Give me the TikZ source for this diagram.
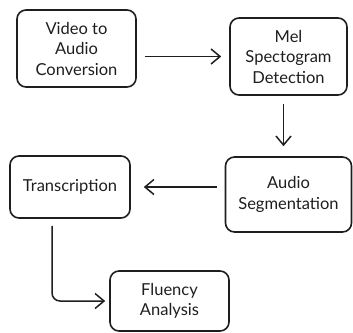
\documentclass[tikz,border=0pt]{standalone}
\usepackage{fontspec}
\setmainfont{Lato}
\usetikzlibrary{arrows.meta}
\definecolor{ink}{HTML}{1E1E1E}
\tikzset{
  box/.style={draw=ink, line width=1.6pt, rounded corners=9pt, align=center,
    text=ink, font=\fontsize{16.5}{20.5}\selectfont, inner sep=0pt},
  arr/.style={draw=ink, line width=1.5pt, -{Straight Barb[length=9pt,width=15pt,line width=1.5pt]}}
}
\begin{document}
\begin{tikzpicture}[x=1pt,y=-1pt]
\useasboundingbox (0,0) rectangle (353,332);
\node[box, minimum width=119pt, minimum height=77pt] (b1) at (76.5,48.5) {Video to\\Audio\\Conversion};
\node[box, minimum width=117pt, minimum height=77pt] (b2) at (288.5,56.5) {Mel\\Spectogram\\Detection};
\node[box, minimum width=126pt, minimum height=75pt] (b3) at (288.5,194.5) {Audio\\Segmentation};
\node[box, minimum width=120pt, minimum height=62pt] (b4) at (70,187) {Transcription};
\node[box, minimum width=119pt, minimum height=60pt] (b5) at (169.5,301) {Fluency\\Analysis};
\draw[arr] ([xshift=8pt]b1.east |- b2.west) -- ([xshift=-8pt]b2.west);
\draw[arr] ([xshift=-5pt,yshift=-8pt]b2.south) -- ([xshift=-5pt,yshift=10pt]b3.north);
\draw[arr] ([xshift=-8pt]b3.west |- b4.east) -- ([xshift=13pt]b4.east);
\coordinate (bend) at ([xshift=-18pt]b4.south |- b5.west);
\draw[arr, rounded corners=8pt] ([xshift=-18pt,yshift=-7pt]b4.south) -- (bend) -- ([xshift=-4pt]b5.west);
\end{tikzpicture}
\end{document}
